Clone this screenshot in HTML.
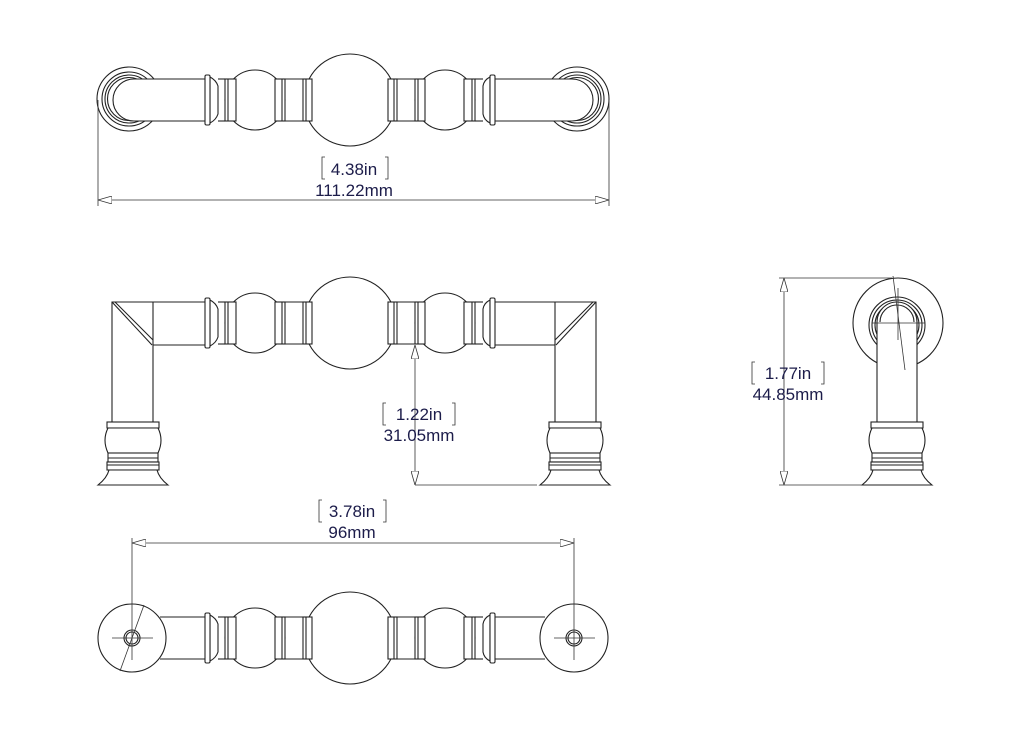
<!DOCTYPE html>
<html><head><meta charset="utf-8"><style>
html,body{margin:0;padding:0;background:#fff}
svg{display:block}
text{font-family:"Liberation Sans",sans-serif;font-size:17px;fill:#1c1c4a}
</style></head><body>
<svg width="1016" height="739" viewBox="0 0 1016 739" xmlns="http://www.w3.org/2000/svg">
<defs>
<marker id="ar" viewBox="0 0 14 8" refX="14" refY="4" markerWidth="14" markerHeight="8" markerUnits="userSpaceOnUse" orient="auto-start-reverse">
<path d="M0,0 L14,4 L0,8 Z" fill="#fff" stroke="#333" stroke-width="0.8"/></marker>
<g id="bar" fill="#fff" stroke="#222" stroke-width="1.1">
<line x1="218" y1="-21" x2="225" y2="-21"/><line x1="218" y1="21" x2="225" y2="21"/>
<line x1="285" y1="-21" x2="303" y2="-21"/><line x1="285" y1="21" x2="303" y2="21"/>
<line x1="397" y1="-21" x2="415" y2="-21"/><line x1="397" y1="21" x2="415" y2="21"/>
<line x1="475" y1="-21" x2="483" y2="-21"/><line x1="475" y1="21" x2="483" y2="21"/>
<circle cx="255" cy="0" r="30"/><circle cx="445" cy="0" r="30"/>
<circle cx="350" cy="0" r="46"/>
<path d="M210,-23 Q216,-20 218,-14 L218,14 Q216,20 210,23 Z"/>
<path d="M490,-23 Q484,-20 483,-14 L483,14 Q484,20 490,23 Z"/>
<rect x="205" y="-25" width="5" height="50" rx="1.5"/>
<rect x="490" y="-25" width="5" height="50" rx="1.5"/>
<rect x="225" y="-21" width="11" height="42"/><line x1="228" y1="-21" x2="228" y2="21"/>
<rect x="275" y="-21" width="10" height="42"/><line x1="282" y1="-21" x2="282" y2="21"/>
<rect x="303" y="-21" width="9" height="42"/><line x1="306" y1="-21" x2="306" y2="21"/>
<rect x="388" y="-21" width="9" height="42"/><line x1="394" y1="-21" x2="394" y2="21"/>
<rect x="415" y="-21" width="10" height="42"/><line x1="418" y1="-21" x2="418" y2="21"/>
<rect x="464" y="-21" width="11" height="42"/><line x1="472" y1="-21" x2="472" y2="21"/>
</g>
<g id="foot" fill="#fff" stroke="#222" stroke-width="1.1">
<rect x="-26" y="0" width="52" height="6"/>
<path d="M-25,6 L25,6 Q31,18 25,31 L-25,31 Q-31,18 -25,6 Z"/>
<rect x="-25" y="31" width="50" height="9"/><line x1="-25" y1="36" x2="25" y2="36"/>
<rect x="-26" y="40" width="52" height="8"/><line x1="-26" y1="43" x2="26" y2="43"/>
<path d="M-24,48 Q-26,56 -35,63 L35,63 Q26,56 24,48 Z"/>
</g>
</defs>

<!-- TOP VIEW -->
<g fill="#fff" stroke="#222" stroke-width="1.1">
<circle cx="129" cy="99" r="32"/><circle cx="129" cy="99" r="27"/><circle cx="129" cy="99" r="24"/><circle cx="129" cy="99" r="21.5"/>
<circle cx="577" cy="99" r="32"/><circle cx="577" cy="99" r="27"/><circle cx="577" cy="99" r="24"/><circle cx="577" cy="99" r="21.5"/>
<path d="M205,79 L134,79 A21,21 0 0 0 134,121 L205,121"/>
<path d="M495,79 L572,79 A21,21 0 0 1 572,121 L495,121"/>
</g>
<use href="#bar" transform="translate(0,100)"/>
<g stroke="#333" stroke-width="0.8" fill="none">
<line x1="98" y1="100" x2="98" y2="206"/><line x1="609" y1="100" x2="609" y2="206"/>
<line x1="98" y1="200" x2="609" y2="200" marker-start="url(#ar)" marker-end="url(#ar)"/>
<path d="M325,157 h-3 v22 h3 M385,157 h3 v22 h-3"/>
</g>
<text x="354" y="175" text-anchor="middle">4.38in</text>
<text x="354" y="196" text-anchor="middle">111.22mm</text>

<!-- FRONT VIEW -->
<g fill="#fff" stroke="#222" stroke-width="1.1">
<path d="M205,302 L112,302 L112,422 L153,422 L153,345 L205,345"/>
<line x1="112" y1="302" x2="152" y2="345"/><line x1="115" y1="302" x2="153" y2="340"/>
<line x1="153" y1="302" x2="153" y2="345"/>
<path d="M495,302 L596,302 L596,422 L555,422 L555,345 L495,345"/>
<line x1="596" y1="302" x2="556" y2="345"/><line x1="593" y1="302" x2="555" y2="340"/>
<line x1="555" y1="302" x2="555" y2="345"/>
</g>
<use href="#bar" transform="translate(0,323)"/>
<use href="#foot" transform="translate(133,422)"/>
<use href="#foot" transform="translate(575,422)"/>
<g stroke="#333" stroke-width="0.8" fill="none">
<line x1="415" y1="345" x2="415" y2="485" marker-start="url(#ar)" marker-end="url(#ar)"/>
<line x1="415" y1="485" x2="537" y2="485"/>
<path d="M386,403 h-3 v22 h3 M452,403 h3 v22 h-3"/>
</g>
<text x="419" y="420" text-anchor="middle">1.22in</text>
<text x="419" y="441" text-anchor="middle">31.05mm</text>

<!-- SIDE VIEW -->
<g fill="#fff" stroke="#222" stroke-width="1.1">
<circle cx="898" cy="323" r="45"/>
<circle cx="897" cy="325" r="28"/><circle cx="897" cy="325" r="25"/><circle cx="897" cy="325" r="22"/>
<path d="M877,422 L877,322 A20,20 0 0 1 917,322 L917,422"/>
<path d="M880,322 A17,17 0 0 1 914,322" fill="none"/>
</g>
<use href="#foot" transform="translate(897,422)"/>
<g stroke="#333" stroke-width="0.8" fill="none">
<line x1="872" y1="323" x2="925" y2="323"/><line x1="898" y1="288" x2="898" y2="340"/>
<line x1="893" y1="276" x2="905" y2="370"/>
<line x1="784" y1="278" x2="784" y2="485" marker-start="url(#ar)" marker-end="url(#ar)"/>
<line x1="779" y1="278" x2="892" y2="278"/><line x1="779" y1="485" x2="862" y2="485"/>
<path d="M755,362 h-3 v22 h3 M821,362 h3 v22 h-3"/>
</g>
<text x="788" y="379" text-anchor="middle">1.77in</text>
<text x="788" y="400" text-anchor="middle">44.85mm</text>

<!-- BOTTOM VIEW -->
<g fill="#fff" stroke="#222" stroke-width="1.1">
<path d="M160,617 L205,617 M160,659 L205,659 M495,617 L545,617 M495,659 L545,659"/>
</g>
<use href="#bar" transform="translate(0,638)"/>
<g fill="#fff" stroke="#222" stroke-width="1.1">
<circle cx="132" cy="638" r="34"/><circle cx="574" cy="638" r="34"/>
<circle cx="132" cy="638" r="8"/><circle cx="132" cy="638" r="6"/>
<circle cx="574" cy="638" r="8"/><circle cx="574" cy="638" r="6"/>
</g>
<g stroke="#333" stroke-width="0.8" fill="none">
<line x1="112" y1="638" x2="153" y2="638"/><line x1="554" y1="638" x2="595" y2="638"/>
<line x1="132" y1="538" x2="132" y2="660"/><line x1="574" y1="538" x2="574" y2="660"/>
<line x1="144" y1="605" x2="120" y2="671"/>
<line x1="132" y1="543" x2="574" y2="543" marker-start="url(#ar)" marker-end="url(#ar)"/>
<path d="M322,500 h-3 v22 h3 M383,500 h3 v22 h-3"/>
</g>
<text x="352" y="517" text-anchor="middle">3.78in</text>
<text x="352" y="538" text-anchor="middle">96mm</text>
</svg>
</body></html>
